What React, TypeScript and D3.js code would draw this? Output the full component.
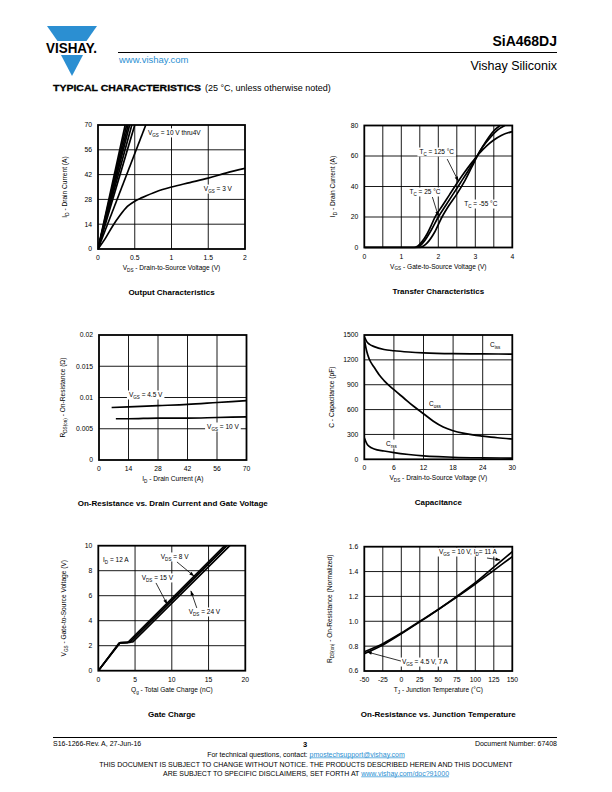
import React from 'react';
import * as d3 from 'd3';

type Pt = [number, number];
const FONT = '"Liberation Sans", Arial, Helvetica, sans-serif';

// ---------- Output Characteristics ----------
const outXTicks = [0, 0.5, 1, 1.5, 2];
const outYTicks = [0, 14, 28, 42, 56, 70];
const outVgs10: Pt[] = [[0, 0], [0.37, 70]];
const outVgs9: Pt[] = [[0, 0], [0.39, 70]];
const outVgs8: Pt[] = [[0, 0], [0.41, 70]];
const outVgs7: Pt[] = [[0, 0], [0.43, 70]];
const outVgs6: Pt[] = [[0, 0], [0.46, 70]];
const outVgs5: Pt[] = [[0, 0], [0.5, 70]];
const outVgs4: Pt[] = [[0, 0], [0.65, 70]];
const outVgs3: Pt[] = [[0, 0], [0.1, 6], [0.2, 13], [0.3, 19], [0.4, 24], [0.5, 27], [0.6, 29], [0.8, 32.5], [1.0, 35], [1.25, 37.5], [1.5, 40], [1.75, 43], [2.0, 45.5]];

// ---------- Transfer Characteristics ----------
const trXTicks = [0, 1, 2, 3, 4];
const trXGrid = [0.5, 1, 1.5, 2, 2.5, 3, 3.5];
const trYTicks = [0, 20, 40, 60, 80];
const trTc125: Pt[] = [[0, 0], [1.35, 0], [1.45, 1], [1.55, 3.5], [1.7, 9], [1.8, 14], [1.9, 19.5], [2.1, 27], [2.3, 34.5], [2.5, 42], [2.7, 49], [2.9, 55.5], [3.1, 61.5], [3.3, 66.5], [3.5, 70.5], [3.7, 73.5], [4.0, 76]];
const trTc25: Pt[] = [[0, 0], [1.4, 0], [1.5, 1], [1.6, 3.5], [1.8, 11], [2.0, 20], [2.2, 27.5], [2.4, 35], [2.6, 42.5], [2.8, 50], [3.0, 58], [3.2, 66], [3.4, 72], [3.6, 77], [3.8, 80]];
const trTcM55: Pt[] = [[0, 0], [1.5, 0], [1.6, 1], [1.7, 3], [1.9, 10], [2.1, 20], [2.3, 28], [2.5, 35], [2.7, 43], [2.9, 52.5], [3.1, 62], [3.3, 70], [3.5, 76.5], [3.67, 80]];

// ---------- On-Resistance vs Drain Current ----------
const rdXTicks = [0, 14, 28, 42, 56, 70];
const rdYTicks = [0, 0.005, 0.01, 0.015, 0.02];
const rdVgs45: Pt[] = [[6, 0.0084], [14, 0.0085], [28, 0.0087], [42, 0.0089], [56, 0.0092], [70, 0.0095]];
const rdVgs10: Pt[] = [[8, 0.0066], [14, 0.0066], [28, 0.0067], [42, 0.0067], [56, 0.0068], [70, 0.0069]];

// ---------- Capacitance ----------
const capXTicks = [0, 6, 12, 18, 24, 30];
const capYTicks = [0, 300, 600, 900, 1200, 1500];
const capCiss: Pt[] = [[0, 1480], [0.5, 1420], [1, 1390], [2, 1360], [4, 1325], [6, 1310], [9, 1295], [12, 1285], [18, 1275], [24, 1272], [30, 1270]];
const capCoss: Pt[] = [[0, 1450], [0.5, 1300], [1, 1210], [2, 1110], [3, 1020], [4, 950], [6, 840], [8, 740], [10, 640], [12, 550], [14, 460], [16, 390], [18, 345], [20, 315], [22, 295], [24, 280], [27, 260], [30, 245]];
const capCrss: Pt[] = [[0, 260], [0.5, 190], [1, 155], [2, 125], [4, 100], [6, 80], [9, 58], [12, 42], [15, 32], [18, 25], [24, 18], [30, 15]];

// ---------- Gate Charge ----------
const gcXTicks = [0, 5, 10, 15, 20];
const gcYTicks = [0, 2, 4, 6, 8, 10];
const gcVds8: Pt[] = [[0, 0], [2.8, 2.2], [4.0, 2.25], [17.2, 10]];
const gcVds15: Pt[] = [[0, 0], [2.9, 2.22], [4.3, 2.27], [17.5, 10]];
const gcVds24: Pt[] = [[0, 0], [3.0, 2.25], [4.7, 2.3], [17.9, 10]];

// ---------- On-Resistance vs Junction Temperature ----------
const rtXTicks = [-50, -25, 0, 25, 50, 75, 100, 125, 150];
const rtYTicks = [0.6, 0.8, 1.0, 1.2, 1.4, 1.6];
const rtVgs10: Pt[] = [[-50, 0.74], [-25, 0.81], [0, 0.9], [25, 0.995], [50, 1.095], [75, 1.2], [100, 1.31], [125, 1.435], [150, 1.56]];
const rtVgs45: Pt[] = [[-50, 0.755], [-25, 0.82], [0, 0.905], [25, 1.0], [50, 1.095], [75, 1.195], [100, 1.3], [125, 1.41], [150, 1.52]];

// ---------- helpers ----------
type Part = { t: string; sub?: boolean };
function parse(s: string): Part[] {
  const out: Part[] = [];
  const re = /_\{([^}]*)\}/g;
  let last = 0;
  let m: RegExpExecArray | null;
  while ((m = re.exec(s))) {
    if (m.index > last) out.push({ t: s.slice(last, m.index) });
    out.push({ t: m[1], sub: true });
    last = m.index + m[0].length;
  }
  if (last < s.length) out.push({ t: s.slice(last) });
  return out;
}

let _ctx: CanvasRenderingContext2D | null = null;
function measure(s: string, size: number): number {
  if (!_ctx) _ctx = document.createElement('canvas').getContext('2d');
  if (!_ctx) return s.length * size * 0.5;
  let w = 0;
  for (const p of parse(s)) {
    _ctx.font = `${p.sub ? size * 0.7 : size}px ${FONT}`;
    w += _ctx.measureText(p.t).width;
  }
  return w;
}

function Rich(props: { x: number; y: number; s: string; size: number; anchor?: string; weight?: string; transform?: string; fill?: string }) {
  const parts = parse(props.s);
  let shifted = false;
  const kids = parts.map((p, i) => {
    let dy: number | undefined;
    if (p.sub && !shifted) { dy = props.size * 0.28; shifted = true; }
    else if (!p.sub && shifted) { dy = -props.size * 0.28; shifted = false; }
    return (
      <tspan key={i} dy={dy} fontSize={p.sub ? props.size * 0.7 : props.size}>{p.t}</tspan>
    );
  });
  return (
    <text x={props.x} y={props.y} fontSize={props.size} fontFamily={FONT} textAnchor={props.anchor || 'start'}
      fontWeight={props.weight || 'normal'} transform={props.transform} fill={props.fill || '#000'}>
      {kids}
    </text>
  );
}

type Label = { x: number; y: number; s: string; bg?: boolean };
type Arrow = { x1: number; y1: number; x2: number; y2: number };

interface ChartProps {
  id: string;
  left: number; top: number; width: number; height: number;
  xDomain: [number, number]; yDomain: [number, number];
  xTicks: number[]; yTicks: number[]; xGrid?: number[];
  yFmt?: (v: number) => string; xFmt?: (v: number) => string;
  series: Pt[][];
  curve?: d3.CurveFactory;
  xTitle: string; yTitle: string; title: string; yTitleX: number;
  labels?: Label[]; arrows?: Arrow[];
}

function Chart(p: ChartProps) {
  const x = d3.scaleLinear().domain(p.xDomain).range([p.left, p.left + p.width]);
  const y = d3.scaleLinear().domain(p.yDomain).range([p.top + p.height, p.top]);
  const line = d3.line<Pt>().x(d => x(d[0])).y(d => y(d[1])).curve(p.curve || d3.curveMonotoneX);
  const bottom = p.top + p.height;
  const cx = p.left + p.width / 2;
  const fs = 6.8;
  const xf = p.xFmt || ((v: number) => String(v));
  const yf = p.yFmt || ((v: number) => String(v));
  const xGrid = p.xGrid || p.xTicks.slice(1, -1);
  return (
    <g>
      <defs>
        <clipPath id={'clip-' + p.id}>
          <rect x={p.left} y={p.top - 1} width={p.width} height={p.height + 2} />
        </clipPath>
      </defs>
      {xGrid.map(t => (
        <line key={'gx' + t} x1={x(t)} x2={x(t)} y1={p.top} y2={bottom} stroke="#000" strokeWidth={0.9} />
      ))}
      {p.yTicks.slice(1, -1).map(t => (
        <line key={'gy' + t} x1={p.left} x2={p.left + p.width} y1={y(t)} y2={y(t)} stroke="#000" strokeWidth={0.9} />
      ))}
      {(p.labels || []).filter(l => l.bg).map((l, i) => {
        const w = measure(l.s, 6.5);
        return <rect key={'bg' + i} x={x(l.x) - 2} y={y(l.y) - 6.5} width={w + 4} height={9} fill="#fff" />;
      })}
      <g clipPath={`url(#clip-${p.id})`}>
        {p.series.map((s, i) => (
          <path key={i} d={line(s) || ''} fill="none" stroke="#000" strokeWidth={1.7} strokeLinejoin="round" />
        ))}
      </g>
      {(p.labels || []).map((l, i) => (
        <Rich key={'l' + i} x={x(l.x)} y={y(l.y)} s={l.s} size={6.5} />
      ))}
      {(p.arrows || []).map((a, i) => (
        <line key={'a' + i} x1={x(a.x1)} y1={y(a.y1)} x2={x(a.x2)} y2={y(a.y2)} stroke="#000" strokeWidth={0.8} markerEnd="url(#arrowhead)" />
      ))}
      <rect x={p.left} y={p.top} width={p.width} height={p.height} fill="none" stroke="#000" strokeWidth={1.8} />
      {p.xTicks.map(t => (
        <text key={'tx' + t} x={x(t)} y={bottom + 11} fontSize={fs} fontFamily={FONT} textAnchor="middle">{xf(t)}</text>
      ))}
      {p.yTicks.map(t => (
        <text key={'ty' + t} x={p.left - 6} y={y(t) + 2.4} fontSize={fs} fontFamily={FONT} textAnchor="end">{yf(t)}</text>
      ))}
      <Rich x={cx} y={bottom + 21} s={p.xTitle} size={6.6} anchor="middle" />
      <Rich x={0} y={0} s={p.yTitle} size={6.6} anchor="middle"
        transform={`translate(${p.yTitleX},${p.top + p.height / 2}) rotate(-90)`} />
      <text x={cx} y={bottom + 46} fontSize={8} fontWeight="bold" fontFamily={FONT} textAnchor="middle">{p.title}</text>
    </g>
  );
}

const BLUE = '#2b8fd2';

export default function App() {
  return (
    <svg width={612} height={792} viewBox="0 0 612 792" style={{ position: 'absolute', left: 0, top: 0, background: '#fff' }}>
      <defs>
        <marker id="arrowhead" viewBox="0 0 10 10" refX="9" refY="5" markerWidth="7" markerHeight="5" orient="auto" markerUnits="userSpaceOnUse">
          <path d="M0,1.5 L10,5 L0,8.5 z" fill="#000" />
        </marker>
      </defs>
      <rect x={0} y={0} width={612} height={792} fill="#fff" />

      {/* Header */}
      <polygon points="47,26 97,26 86.5,41 57.5,41" fill={BLUE} />
      <polygon points="61,55 83,55 72,76" fill={BLUE} />
      <text x={46} y={53} fontSize={14} fontWeight="bold" fontFamily={FONT} textLength={51} lengthAdjust="spacingAndGlyphs">VISHAY.</text>
      <line x1={118} x2={557} y1={52.5} y2={52.5} stroke="#000" strokeWidth={1.2} />
      <text x={557} y={46} fontSize={14} fontWeight="bold" fontFamily={FONT} textAnchor="end">SiA468DJ</text>
      <text x={557} y={70} fontSize={12.5} fontFamily={FONT} textAnchor="end">Vishay Siliconix</text>
      <text x={119} y={63} fontSize={9.5} fontFamily={FONT} fill={BLUE}>www.vishay.com</text>
      <text x={53} y={91} fontSize={9.5} fontWeight="bold" fontFamily={FONT} stroke="#000" strokeWidth={0.3} textLength={148} lengthAdjust="spacingAndGlyphs">TYPICAL CHARACTERISTICS</text>
      <text x={205} y={91} fontSize={9} fontFamily={FONT}>(25 °C, unless otherwise noted)</text>

      <Chart id="out" left={98} top={125} width={147} height={124}
        xDomain={[0, 2]} yDomain={[0, 70]} xTicks={outXTicks} yTicks={outYTicks}
        series={[outVgs10, outVgs9, outVgs8, outVgs7, outVgs6, outVgs5, outVgs4, outVgs3]}
        xTitle="V_{DS} - Drain-to-Source Voltage (V)" yTitle="I_{D} - Drain Current (A)"
        title="Output Characteristics" yTitleX={67}
        labels={[
          { x: 0.68, y: 64.4, s: 'V_{GS} = 10 V thru4V', bg: true },
          { x: 1.44, y: 32.7, s: 'V_{GS} = 3 V', bg: true },
        ]} />

      <Chart id="tr" left={364.3} top={125.5} width={148} height={122}
        xDomain={[0, 4]} yDomain={[0, 80]} xTicks={trXTicks} yTicks={trYTicks} xGrid={trXGrid}
        series={[trTc125, trTc25, trTcM55]}
        xTitle="V_{GS} - Gate-to-Source Voltage (V)" yTitle="I_{D} - Drain Current (A)"
        title="Transfer Characteristics" yTitleX={335}
        labels={[
          { x: 1.49, y: 61.3, s: 'T_{C} = 125 °C', bg: true },
          { x: 1.22, y: 35.1, s: 'T_{C} = 25 °C', bg: true },
          { x: 2.7, y: 27.2, s: 'T_{C} = -55 °C', bg: true },
        ]}
        arrows={[
          { x1: 2.24, y1: 58.0, x2: 2.54, y2: 43.6 },
          { x1: 1.84, y1: 33.1, x2: 2.0, y2: 20.7 },
        ]} />

      <Chart id="rd" left={99} top={335} width={147.5} height={125}
        xDomain={[0, 70]} yDomain={[0, 0.02]} xTicks={rdXTicks} yTicks={rdYTicks}
        yFmt={v => (v === 0 ? '0' : String(+v.toFixed(3)))}
        series={[rdVgs45, rdVgs10]}
        xTitle="I_{D} - Drain Current (A)" yTitle="R_{DS(on)} - On-Resistance (Ω)"
        title="On-Resistance vs. Drain Current and Gate Voltage" yTitleX={65}
        labels={[
          { x: 14.2, y: 0.01008, s: 'V_{GS} = 4.5 V', bg: true },
          { x: 51.3, y: 0.00496, s: 'V_{GS} = 10 V', bg: true },
        ]} />

      <Chart id="cap" left={364.3} top={335} width={148} height={124.3}
        xDomain={[0, 30]} yDomain={[0, 1500]} xTicks={capXTicks} yTicks={capYTicks}
        series={[capCiss, capCoss, capCrss]}
        xTitle="V_{DS} - Drain-to-Source Voltage (V)" yTitle="C - Capacitance (pF)"
        title="Capacitance" yTitleX={334}
        labels={[
          { x: 25.5, y: 1356, s: 'C_{iss}', bg: true },
          { x: 13.1, y: 643, s: 'C_{oss}', bg: true },
          { x: 4.4, y: 160, s: 'C_{rss}', bg: true },
        ]} />

      <Chart id="gc" left={98.3} top={545.7} width={147} height={125}
        xDomain={[0, 20]} yDomain={[0, 10]} xTicks={gcXTicks} yTicks={gcYTicks}
        series={[gcVds8, gcVds15, gcVds24]} curve={d3.curveLinear}
        xTitle="Q_{g} - Total Gate Charge (nC)" yTitle="V_{GS} - Gate-to-Source Voltage (V)"
        title="Gate Charge" yTitleX={66}
        labels={[
          { x: 0.64, y: 8.7, s: 'I_{D} = 12 A', bg: true },
          { x: 8.5, y: 8.94, s: 'V_{DS} = 8 V', bg: true },
          { x: 5.9, y: 7.26, s: 'V_{DS} = 15 V', bg: true },
          { x: 12.3, y: 4.54, s: 'V_{DS} = 24 V', bg: true },
        ]}
        arrows={[
          { x1: 10.7, y1: 8.7, x2: 13.0, y2: 7.58 },
          { x1: 7.85, y1: 7.02, x2: 9.35, y2: 5.34 },
          { x1: 13.4, y1: 5.02, x2: 12.6, y2: 6.38 },
        ]} />

      <Chart id="rt" left={364.3} top={546.7} width={148} height={124.3}
        xDomain={[-50, 150]} yDomain={[0.6, 1.6]} xTicks={rtXTicks} yTicks={rtYTicks}
        yFmt={v => v.toFixed(1)}
        series={[rtVgs10, rtVgs45]}
        xTitle="T_{J} - Junction Temperature (°C)" yTitle="R_{DS(on)} - On-Resistance (Normalized)"
        title="On-Resistance vs. Junction Temperature" yTitleX={332}
        labels={[
          { x: 50.9, y: 1.541, s: 'V_{GS} = 10 V, I_{D}= 11 A', bg: true },
          { x: 0.8, y: 0.656, s: 'V_{GS} = 4.5 V, 7 A', bg: true },
        ]}
        arrows={[
          { x1: 115.8, y1: 1.509, x2: 133.4, y2: 1.493 },
          { x1: -0.5, y1: 0.68, x2: -46, y2: 0.753 },
        ]} />

      {/* Footer */}
      <line x1={53} x2={557} y1={737.5} y2={737.5} stroke="#000" strokeWidth={1.2} />
      <text x={53} y={746} fontSize={7} fontFamily={FONT}>S16-1266-Rev. A, 27-Jun-16</text>
      <text x={305} y={747} fontSize={7.5} fontWeight="bold" fontFamily={FONT} textAnchor="middle">3</text>
      <text x={557} y={746} fontSize={7} fontFamily={FONT} textAnchor="end">Document Number: 67408</text>
      <text x={306} y={756.5} fontSize={7} fontFamily={FONT} textAnchor="middle">
        For technical questions, contact: <tspan fill={BLUE} textDecoration="underline">pmostechsupport@vishay.com</tspan>
      </text>
      <text x={306} y={767} fontSize={7} fontFamily={FONT} textAnchor="middle">
        THIS DOCUMENT IS SUBJECT TO CHANGE WITHOUT NOTICE. THE PRODUCTS DESCRIBED HEREIN AND THIS DOCUMENT
      </text>
      <text x={306} y={775.5} fontSize={7} fontFamily={FONT} textAnchor="middle">
        ARE SUBJECT TO SPECIFIC DISCLAIMERS, SET FORTH AT <tspan fill={BLUE} textDecoration="underline">www.vishay.com/doc?91000</tspan>
      </text>
    </svg>
  );
}
